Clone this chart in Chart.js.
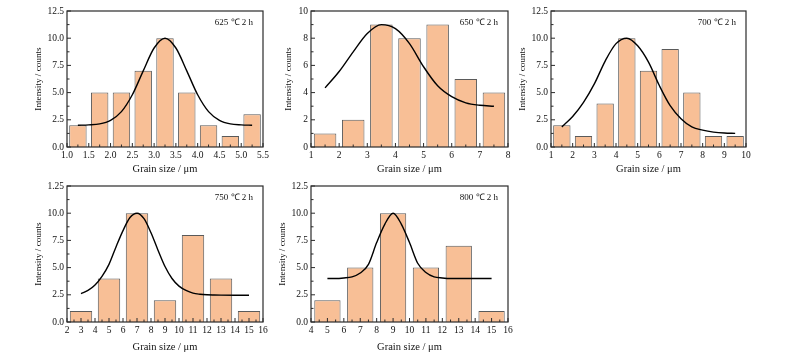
<!DOCTYPE html>
<html>
<head>
<meta charset="utf-8">
<script src="https://cdn.jsdelivr.net/npm/chart.js@4"></script>
<style>
  body { margin: 0; background: #fff; }
  #wrap { position: relative; width: 800px; height: 356px; overflow: hidden; }
  #wrap canvas { position: absolute; }
</style>
</head>
<body>
<div id="wrap">
  <canvas id="c625" width="240" height="176" style="left:33px;top:0px"></canvas>
  <canvas id="c650" width="235" height="176" style="left:283px;top:0px"></canvas>
  <canvas id="c700" width="239" height="176" style="left:517px;top:0px"></canvas>
  <canvas id="c750" width="240" height="179" style="left:33px;top:175px"></canvas>
  <canvas id="c800" width="241" height="179" style="left:277px;top:175px"></canvas>
</div>
<script>
// grain size histograms (bar centres / counts) and the fitted curves
var sizes625 = [1.25, 1.75, 2.25, 2.75, 3.25, 3.75, 4.25, 4.75, 5.25];
var counts625 = [2, 5, 5, 7, 10, 5, 2, 1, 3];
var fitX625 = [1.25, 1.5, 1.75, 2.0, 2.25, 2.5, 2.75, 3.0, 3.25, 3.5, 3.75, 4.0, 4.25, 4.5, 4.75, 5.0, 5.25];
var fitY625 = [2.0, 2.03, 2.12, 2.45, 3.25, 4.8, 7.0, 9.1, 10.0, 9.1, 7.0, 4.8, 3.25, 2.45, 2.12, 2.03, 2.0];

var sizes650 = [1.5, 2.5, 3.5, 4.5, 5.5, 6.5, 7.5];
var counts650 = [1, 2, 9, 8, 9, 5, 4];
var fitX650 = [1.5, 2.0, 2.5, 3.0, 3.5, 4.0, 4.5, 5.0, 5.5, 6.0, 6.5, 7.0, 7.5];
var fitY650 = [4.35, 5.55, 7.0, 8.35, 9.0, 8.7, 7.6, 5.9, 4.5, 3.7, 3.25, 3.07, 3.0];

var sizes700 = [1.5, 2.5, 3.5, 4.5, 5.5, 6.5, 7.5, 8.5, 9.5];
var counts700 = [2, 1, 4, 10, 7, 9, 5, 1, 1];
var fitX700 = [1.5, 2.0, 2.5, 3.0, 3.5, 4.0, 4.5, 5.0, 5.5, 6.0, 6.5, 7.0, 7.5, 8.0, 8.5, 9.0, 9.5];
var fitY700 = [1.85, 2.8, 4.1, 5.8, 7.9, 9.5, 10.0, 9.3, 7.8, 5.65, 3.8, 2.6, 1.85, 1.55, 1.37, 1.28, 1.25];

var sizes750 = [3, 5, 7, 9, 11, 13, 15];
var counts750 = [1, 4, 10, 2, 8, 4, 1];
var fitX750 = [3, 3.5, 4, 4.5, 5, 5.5, 6, 6.5, 7, 7.5, 8, 8.5, 9, 9.5, 10, 10.5, 11, 11.5, 12, 12.5, 13, 14, 15];
var fitY750 = [2.6, 2.9, 3.4, 4.2, 5.3, 6.9, 8.4, 9.6, 10.0, 9.5, 8.2, 6.6, 5.1, 4.0, 3.3, 2.9, 2.65, 2.55, 2.5, 2.48, 2.47, 2.46, 2.46];

var sizes800 = [5, 7, 9, 11, 13, 15];
var counts800 = [2, 5, 10, 5, 7, 1];
var fitX800 = [5, 5.5, 6, 6.5, 7, 7.5, 8, 8.5, 9, 9.5, 10, 10.5, 11, 11.5, 12, 12.5, 13, 14, 15];
var fitY800 = [4.0, 4.0, 4.05, 4.15, 4.5, 5.3, 7.3, 9.0, 10.0, 9.0, 7.3, 5.4, 4.55, 4.15, 4.05, 4.0, 4.0, 4.0, 4.0];

// tick labels
var xTicks625 = ['1.0', '1.5', '2.0', '2.5', '3.0', '3.5', '4.0', '4.5', '5.0', '5.5'];
var xTicks650 = ['1', '2', '3', '4', '5', '6', '7', '8'];
var xTicks700 = ['1', '2', '3', '4', '5', '6', '7', '8', '9', '10'];
var xTicks750 = ['2', '3', '4', '5', '6', '7', '8', '9', '10', '11', '12', '13', '14', '15', '16'];
var xTicks800 = ['4', '5', '6', '7', '8', '9', '10', '11', '12', '13', '14', '15', '16'];
var yTicksDec = ['0.0', '2.5', '5.0', '7.5', '10.0', '12.5'];
var yTicks650 = ['0', '2', '4', '6', '8', '10'];
var yTicks750 = ['0.0', '2.5', '5.0', '7.5', '10.0', '1.25'];

var titles = ['625 ℃ 2 h', '650 ℃ 2 h', '700 ℃ 2 h', '750 ℃ 2 h', '800 ℃ 2 h'];

// binSpan = bar spacing / tick step (Chart.js sizes bars from the smallest gap, ticks included)
var panels = [
  { id: 'c625', title: titles[0], sizes: sizes625, counts: counts625, fitX: fitX625, fitY: fitY625,
    xMin: 1, xMax: 5.5, xStep: 0.5, xLabels: xTicks625, yMax: 12.5, yStep: 2.5, yLabels: yTicksDec, yW: 34, xH: 29, binSpan: 1 },
  { id: 'c650', title: titles[1], sizes: sizes650, counts: counts650, fitX: fitX650, fitY: fitY650,
    xMin: 1, xMax: 8, xStep: 1, xLabels: xTicks650, yMax: 10, yStep: 2, yLabels: yTicks650, yW: 28, xH: 29, binSpan: 1 },
  { id: 'c700', title: titles[2], sizes: sizes700, counts: counts700, fitX: fitX700, fitY: fitY700,
    xMin: 1, xMax: 10, xStep: 1, xLabels: xTicks700, yMax: 12.5, yStep: 2.5, yLabels: yTicksDec, yW: 34, xH: 29, binSpan: 1 },
  { id: 'c750', title: titles[3], sizes: sizes750, counts: counts750, fitX: fitX750, fitY: fitY750,
    xMin: 2, xMax: 16, xStep: 1, xLabels: xTicks750, yMax: 12.5, yStep: 2.5, yLabels: yTicks750, yW: 34, xH: 32, binSpan: 2 },
  { id: 'c800', title: titles[4], sizes: sizes800, counts: counts800, fitX: fitX800, fitY: fitY800,
    xMin: 4, xMax: 16, xStep: 1, xLabels: xTicks800, yMax: 12.5, yStep: 2.5, yLabels: yTicksDec, yW: 34, xH: 32, binSpan: 2 }
];

var serif = '"Liberation Serif", "Times New Roman", serif';
var ink = '#111';

// box around the plot, inward ticks and the temperature note
var framePlugin = {
  id: 'frame',
  afterDatasetsDraw: function (chart) {
    var a = chart.chartArea, ctx = chart.ctx;
    var opt = chart.options.plugins.frame;
    var xs = chart.scales.x, ys = chart.scales.y;
    ctx.save();
    ctx.strokeStyle = '#2a2a2a';
    ctx.lineWidth = 1.2;
    ctx.strokeRect(a.left, a.top, a.right - a.left, a.bottom - a.top);

    ctx.lineWidth = 1;
    ctx.beginPath();
    xs.ticks.forEach(function (t) {
      var px = xs.getPixelForValue(t.value);
      ctx.moveTo(px, a.bottom); ctx.lineTo(px, a.bottom - 4);
      var mid = t.value + opt.xStep / 2;
      if (mid < xs.max) {
        var pm = xs.getPixelForValue(mid);
        ctx.moveTo(pm, a.bottom); ctx.lineTo(pm, a.bottom - 2.5);
      }
    });
    ys.ticks.forEach(function (t) {
      var py = ys.getPixelForValue(t.value);
      ctx.moveTo(a.left, py); ctx.lineTo(a.left + 4, py);
      var mid = t.value + opt.yStep / 2;
      if (mid < ys.max) {
        var pm = ys.getPixelForValue(mid);
        ctx.moveTo(a.left, pm); ctx.lineTo(a.left + 2.5, pm);
      }
    });
    ctx.stroke();

    ctx.fillStyle = ink;
    ctx.font = '9px ' + serif;
    ctx.textAlign = 'right';
    ctx.textBaseline = 'middle';
    ctx.fillText(opt.label, a.right - 10, a.top + 12);
    ctx.restore();
  }
};

function makeChart(p) {
  var ctx = document.getElementById(p.id).getContext('2d');

  var fitPoints = p.fitX.map(function (x, i) { return { x: x, y: p.fitY[i] }; });
  var barPoints = p.sizes.map(function (x, i) { return { x: x, y: p.counts[i] }; });

  return new Chart(ctx, {
    type: 'bar',
    data: {
      datasets: [{
        type: 'line',
        data: fitPoints,
        borderColor: '#000',
        borderWidth: 1.4,
        pointRadius: 0,
        tension: 0.4,
        cubicInterpolationMode: 'monotone',
        fill: false,
        order: 0
      }, {
        type: 'bar',
        data: barPoints,
        backgroundColor: 'rgb(248,191,150)',
        borderColor: 'rgb(90,90,90)',
        borderWidth: 1,
        barPercentage: 0.8,
        categoryPercentage: p.binSpan,
        order: 1
      }]
    },
    options: {
      responsive: false,
      animation: false,
      layout: { padding: { top: 11, right: 10, left: 0, bottom: 0 } },
      scales: {
        x: {
          type: 'linear',
          min: p.xMin,
          max: p.xMax,
          offset: false,
          grid: { display: false, drawTicks: false },
          border: { display: false },
          ticks: {
            stepSize: p.xStep,
            autoSkip: false,
            maxRotation: 0,
            padding: 3,
            color: ink,
            font: { family: serif, size: 9.5 },
            callback: function (v, i) { return p.xLabels[i]; }
          },
          title: { display: true, text: 'Grain size / μm', color: ink, padding: 0, font: { family: serif, size: 10.5 } },
          afterFit: function (s) { s.height = p.xH; }
        },
        y: {
          min: 0,
          max: p.yMax,
          grid: { display: false, drawTicks: false },
          border: { display: false },
          ticks: {
            stepSize: p.yStep,
            padding: 3,
            color: ink,
            font: { family: serif, size: 9.5 },
            callback: function (v, i) { return p.yLabels[i]; }
          },
          title: { display: true, text: 'Intensity / counts', color: ink, padding: 0, font: { family: serif, size: 9.2 } },
          afterFit: function (s) { s.width = p.yW; }
        }
      },
      plugins: {
        legend: { display: false },
        tooltip: { enabled: false },
        frame: { label: p.title, xStep: p.xStep, yStep: p.yStep }
      }
    },
    plugins: [framePlugin]
  });
}

var charts = panels.map(makeChart);
</script>
</body>
</html>
